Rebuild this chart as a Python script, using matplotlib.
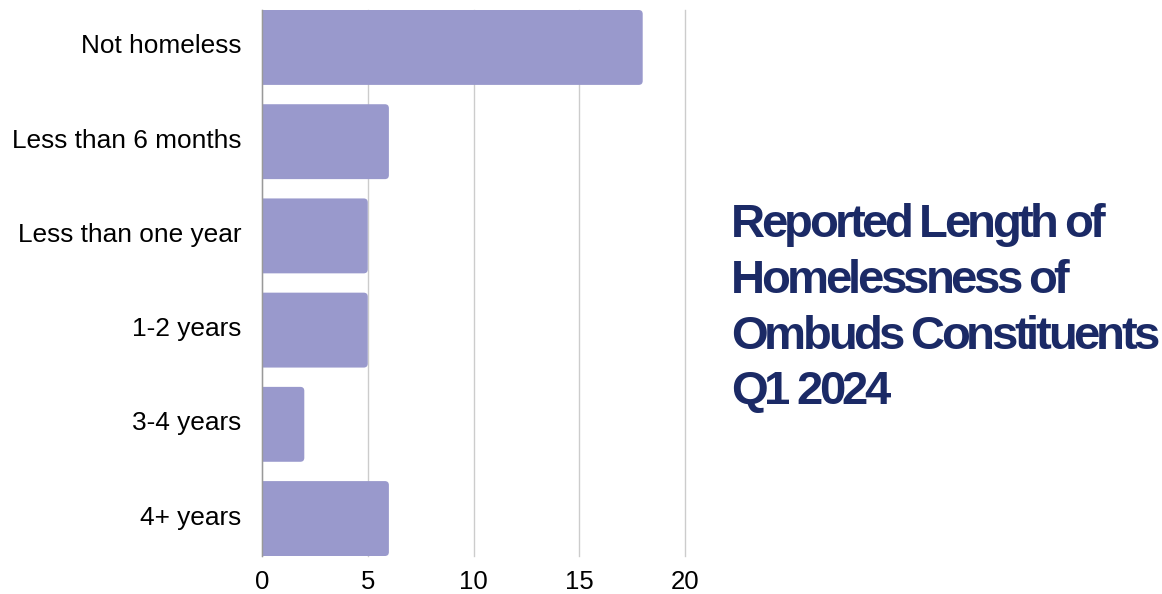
import matplotlib
matplotlib.use("Agg")
import matplotlib.pyplot as plt
import matplotlib.transforms as mtransforms
from matplotlib.patches import FancyBboxPatch
from matplotlib.font_manager import FontProperties, findfont, get_font

categories = ["Not homeless", "Less than 6 months", "Less than one year",
              "1-2 years", "3-4 years", "4+ years"]
values = [18, 6, 5, 5, 2, 6]
xticks = [0, 5, 10, 15, 20]
title_lines = ["Reported Length of", "Homelessness of", "Ombuds Constituents", "Q1 2024"]

W, H, DPI = 1162, 594, 100
fig = plt.figure(figsize=(W / DPI, H / DPI), dpi=DPI)
plt.rcParams['font.family'] = ['Liberation Sans', 'DejaVu Sans']

ax = fig.add_axes([262 / W, (H - 556) / H, 423 / W, 546 / H])
bar_h = 0.795
ypos = list(range(len(categories)))
bars = ax.barh(ypos, values, height=bar_h, color="none")
ax.set_xlim(0, 20)
ax.set_ylim(len(categories) - 1 + bar_h / 2, -bar_h / 2)

# rounded right corners
px_x = 423 / 20
px_y = 546 / (len(categories) - 1 + bar_h)
r = 4 / px_x
for b in bars:
    x0, y0 = b.get_x(), b.get_y()
    w, h = b.get_width(), b.get_height()
    p = FancyBboxPatch((x0 - 1, y0), w + 1, h,
                       boxstyle=f"round,pad=0,rounding_size={r}",
                       mutation_aspect=px_x / px_y,
                       facecolor="#9999cc", edgecolor="none", zorder=3)
    ax.add_patch(p)

ax.set_xticks(xticks)
ax.set_yticks(ypos)
ax.set_yticklabels(categories)
ax.tick_params(axis="both", length=0, labelsize=18.9, colors="black")
ax.tick_params(axis="x", labelsize=18.5)
ax.tick_params(axis="y", pad=15)
ax.tick_params(axis="x", pad=10)
ax.grid(axis="x", color="#cccccc", linewidth=1.0, zorder=0)
ax.set_axisbelow(True)
for gl in ax.get_xgridlines():
    gl.set_clip_on(False)
for s in ["top", "right", "bottom"]:
    ax.spines[s].set_visible(False)
ax.spines["left"].set_color("#999999")
ax.spines["left"].set_linewidth(1.0)
ax.spines["left"].set_zorder(4)

# nudge y labels up slightly
off = mtransforms.ScaledTranslation(0, 2.5 / 72, fig.dpi_scale_trans)
for lbl in ax.get_yticklabels():
    lbl.set_transform(lbl.get_transform() + off)

# title with tight letter spacing
fp = FontProperties(family="Liberation Sans", weight="bold")
size_pt = 34
font = get_font(findfont(fp))
font.set_size(size_pt, 72)
tracking = -3.6  # px
scale = DPI / 72.0
baselines = [237, 293, 349, 404]
x_left = 731
for line, yb in zip(title_lines, baselines):
    x = x_left
    for c in line:
        fig.text(x / W, (H - yb) / H, c, fontproperties=fp, fontsize=size_pt,
                 color="#1b2a66", va="baseline", ha="left")
        g = font.load_char(ord(c))
        adv = g.linearHoriAdvance / 65536.0 * scale
        x += adv + tracking

fig.savefig("out.png", dpi=DPI)
